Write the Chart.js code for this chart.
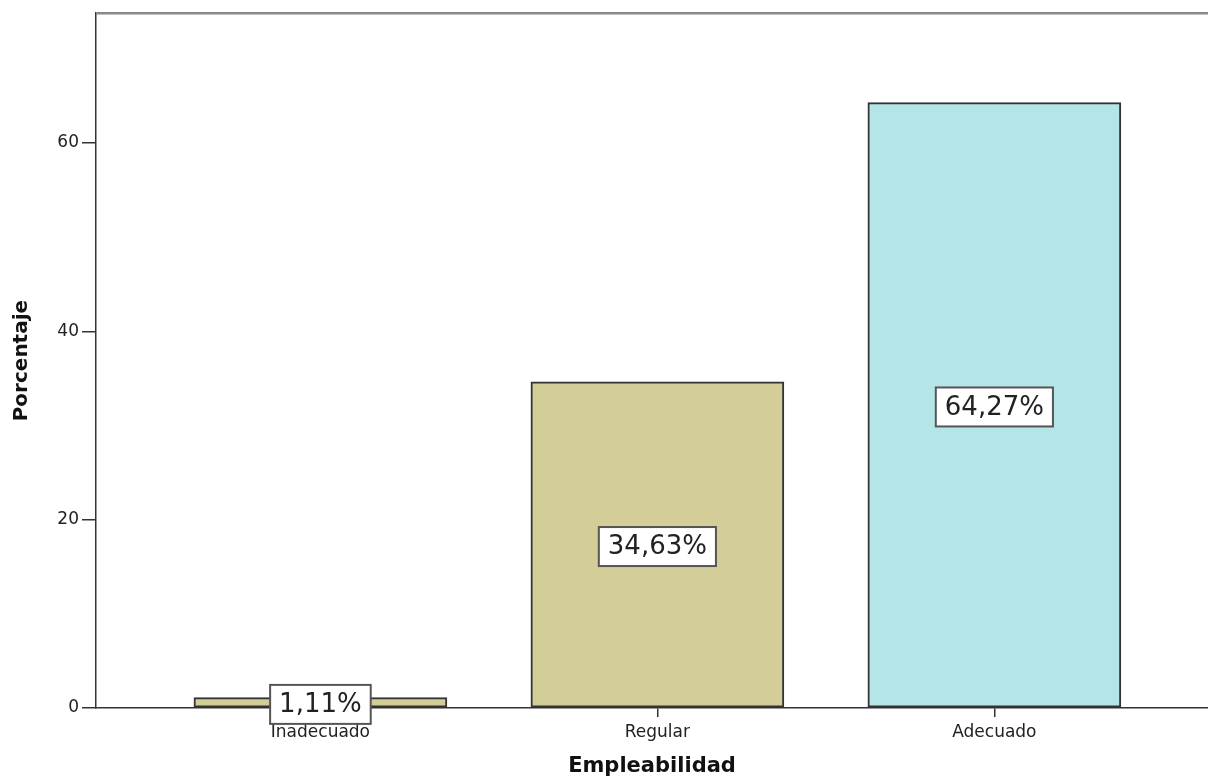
<!DOCTYPE html>
<html>
<head>
<meta charset="utf-8">
<script src="https://cdn.jsdelivr.net/npm/chart.js@4/dist/chart.umd.min.js"></script>
<style>
  html, body { margin: 0; padding: 0; background: #fff; }
  #wrap { width: 1208px; height: 780px; }
</style>
</head>
<body>
<div id="wrap"><canvas id="empleoChart" width="1208" height="780"></canvas></div>
<script>
// values
const categories = ["Inadecuado", "Regular", "Adecuado"];
const percentages = [1.11, 34.63, 64.27];
const valueLabels = ["1,11%", "34,63%", "64,27%"];
const yTicks = [0, 20, 40, 60];
const barColors = ["rgb(211, 206, 152)", "rgb(211, 206, 152)", "rgb(180, 230, 232)"];

// top frame line of the plot area
const frameLine = {
  id: "frameLine",
  afterDraw(chart) {
    const { ctx, chartArea } = chart;
    ctx.save();
    ctx.strokeStyle = "#8a8a8a";
    ctx.lineWidth = 2.5;
    ctx.beginPath();
    ctx.moveTo(chartArea.left, chartArea.top);
    ctx.lineTo(chartArea.right, chartArea.top);
    ctx.stroke();
    ctx.restore();
  },
};

// boxed percentage labels in the middle of each bar
const boxLabels = {
  id: "boxLabels",
  afterDatasetsDraw(chart) {
    const { ctx } = chart;
    const meta = chart.getDatasetMeta(0);
    ctx.save();
    ctx.font = "26px 'DejaVu Sans'";
    ctx.textAlign = "center";
    ctx.textBaseline = "middle";
    meta.data.forEach((bar, i) => {
      const text = valueLabels[i];
      const w = ctx.measureText(text).width + 18;
      const h = 39;
      const cx = bar.x;
      const cy = (bar.y + bar.base) / 2 + 2;
      ctx.fillStyle = "#fff";
      ctx.fillRect(cx - w / 2, cy - h / 2, w, h);
      ctx.strokeStyle = "#555";
      ctx.lineWidth = 2;
      ctx.strokeRect(cx - w / 2, cy - h / 2, w, h);
      ctx.fillStyle = "#222";
      ctx.fillText(text, cx, cy + 1);
    });
    ctx.restore();
  },
};

const ctx = document.getElementById("empleoChart").getContext("2d");
const empleoChart = new Chart(ctx, {
  type: "bar",
  data: {
    datasets: [
      {
        data: categories.map((c, i) => ({ x: i, y: percentages[i] })),
        backgroundColor: barColors,
        borderColor: "#333",
        borderWidth: 2,
        borderSkipped: false,
        barThickness: 253,
      },
    ],
  },
  options: {
    responsive: false,
    animation: false,
    layout: { padding: { top: 12, right: 0, bottom: 0, left: 0 } },
    plugins: {
      legend: { display: false },
      tooltip: { enabled: false },
    },
    scales: {
      x: {
        type: "linear",
        offset: false,
        min: -0.666,
        max: 2.634,
        afterBuildTicks: (scale) => {
          scale.ticks = categories.map((c, i) => ({ value: i }));
        },
        afterFit: (scale) => {
          scale.height = 72;
        },
        ticks: {
          callback: (v) => categories[v],
          color: "#222",
          font: { family: "'DejaVu Sans'", size: 17 },
          padding: 5,
          maxRotation: 0,
        },
        grid: {
          offset: false,
          drawOnChartArea: false,
          color: "#333",
          lineWidth: 1.5,
          tickLength: 9,
        },
        border: { color: "#333", width: 1.5 },
        title: {
          display: true,
          text: "Empleabilidad",
          color: "#111",
          font: { family: "'DejaVu Sans'", size: 21, weight: "bold" },
          padding: { top: 0, bottom: 1 },
        },
      },
      y: {
        min: 0,
        max: 73.77,
        afterBuildTicks: (scale) => {
          scale.ticks = yTicks.map((v) => ({ value: v }));
        },
        afterFit: (scale) => {
          scale.width = 96;
        },
        ticks: {
          color: "#222",
          font: { family: "'DejaVu Sans'", size: 17 },
          padding: 3,
        },
        grid: {
          drawOnChartArea: false,
          color: "#333",
          lineWidth: 1.5,
          tickLength: 14,
        },
        border: { color: "#333", width: 1.5 },
        title: {
          display: true,
          text: "Porcentaje",
          color: "#111",
          font: { family: "'DejaVu Sans'", size: 20, weight: "bold" },
          padding: { top: 10, bottom: 0 },
        },
      },
    },
  },
  plugins: [frameLine, boxLabels],
});
</script>
</body>
</html>
